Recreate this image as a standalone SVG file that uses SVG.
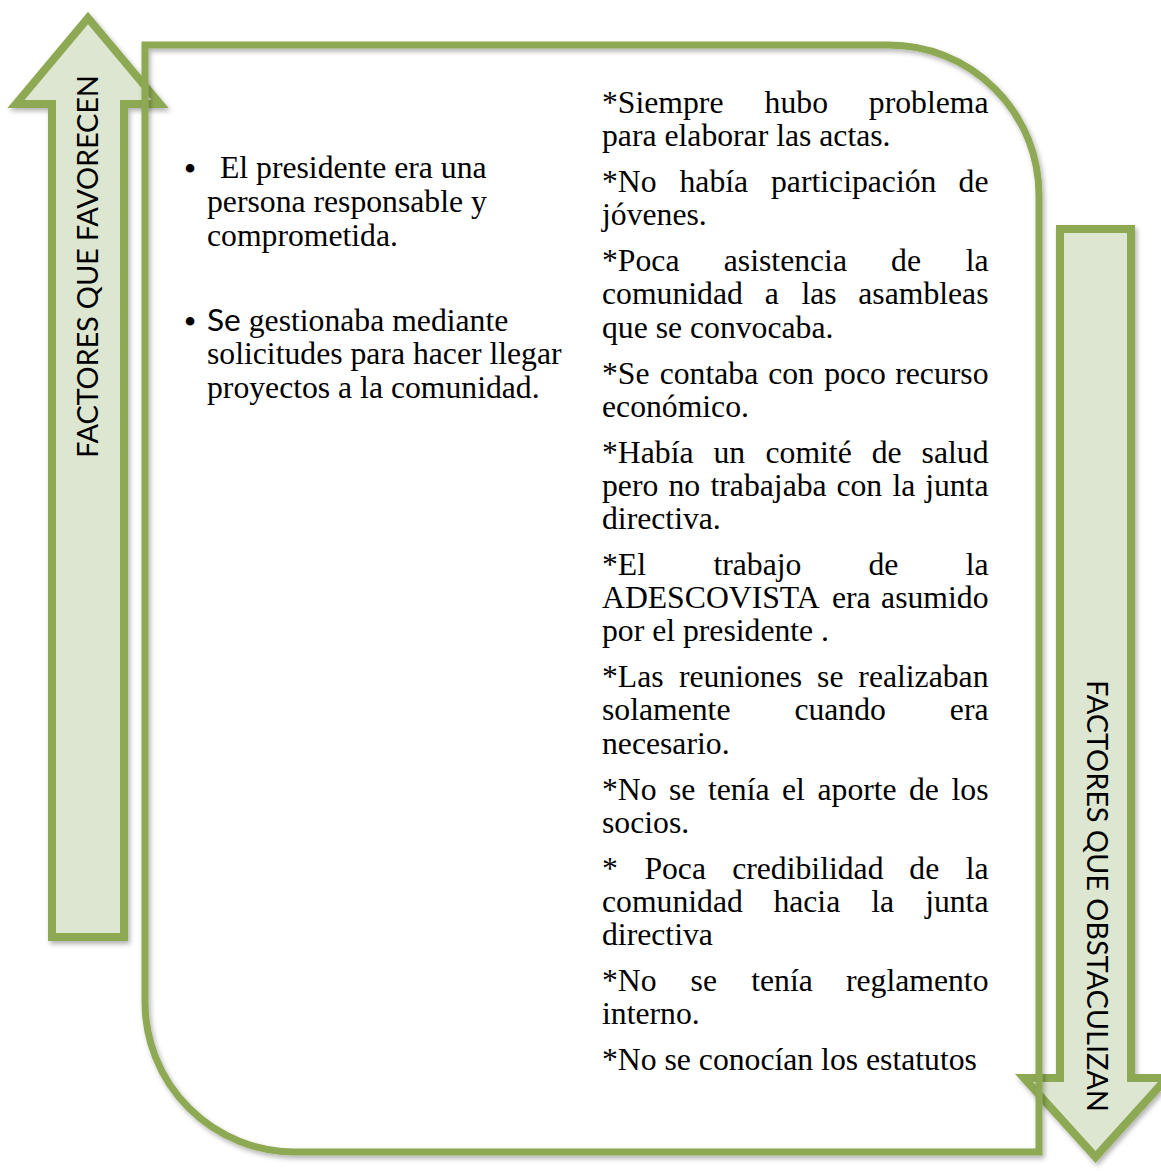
<svg xmlns="http://www.w3.org/2000/svg" width="1161" height="1171" viewBox="0 0 1161 1171">
<style>
.arrow{fill:#DDE6D1;stroke:#8EA953;stroke-width:8;stroke-linejoin:miter;stroke-miterlimit:10}
.frame{fill:none;stroke:#8EA953;stroke-width:7}
.lbl{font-family:"Lato","Open Sans",sans-serif;font-size:29px;fill:#000}
.t{font-family:"Liberation Serif","Times New Roman",serif;font-size:31.7px;fill:#000}
.b{font-family:"Liberation Serif","Times New Roman",serif;font-size:36px;fill:#000}
.sans{font-family:"Lato","Open Sans",sans-serif}
</style>
<defs>
<filter id="sh" x="-10%" y="-10%" width="130%" height="130%">
<feDropShadow dx="2" dy="3" stdDeviation="2.5" flood-color="#000" flood-opacity="0.3"/>
</filter>
</defs>
<rect width="1161" height="1171" fill="#fff"/>

<g id="arrow-up">
<path class="arrow" filter="url(#sh)" d="M88,18 L160,104 L124,104 L124,937 L52,937 L52,104 L16,104 Z"/>
<text class="lbl" transform="translate(98,266.5) rotate(-90)" text-anchor="middle" textLength="383" lengthAdjust="spacing">FACTORES QUE FAVORECEN</text>
</g>

<g id="arrow-down">
<path class="arrow" filter="url(#sh)" d="M1060,229 L1131,229 L1131,1078 L1167,1078 L1095.5,1157 L1024,1078 L1060,1078 Z"/>
<text class="lbl" transform="translate(1087,896) rotate(90)" text-anchor="middle" textLength="432" lengthAdjust="spacing">FACTORES QUE OBSTACULIZAN</text>
</g>

<g id="frame">
<path class="frame" filter="url(#sh)" d="M145,45 H889 A150,150 0 0 1 1039,195 V1152 H295 A150,150 0 0 1 145,1002 Z"/>
</g>

<g id="connectors">
<line x1="591.5" y1="417" x2="591.5" y2="790" stroke="#9BBB59" stroke-width="5" filter="url(#sh)"/>
</g>

<g id="favorecen-text">
<text class="b" x="190" y="181" text-anchor="middle">•</text>
<text class="t" x="220" y="178">El presidente era una</text>
<text class="t" x="207" y="212">persona responsable y</text>
<text class="t" x="207" y="246">comprometida.</text>
<text class="b" x="190" y="334" text-anchor="middle">•</text>
<text class="t" x="207" y="331"><tspan class="sans">Se</tspan> gestionaba mediante</text>
<text class="t" x="207" y="364">solicitudes para hacer llegar</text>
<text class="t" x="207" y="398">proyectos a la comunidad.</text>
</g>

<g id="obstaculizan-text">
<text class="t" y="113"><tspan x="602">*Siempre</tspan><tspan x="764.6">hubo</tspan><tspan x="988.5" text-anchor="end">problema</tspan></text>
<text class="t" x="602" y="146.2">para elaborar las actas.</text>
<text class="t" y="192.1"><tspan x="602">*No</tspan><tspan x="679.5">había</tspan><tspan x="771">participación</tspan><tspan x="988.5" text-anchor="end">de</tspan></text>
<text class="t" x="602" y="225.3">jóvenes.</text>
<text class="t" y="271.2"><tspan x="602">*Poca</tspan><tspan x="723.8">asistencia</tspan><tspan x="891.1">de</tspan><tspan x="988.5" text-anchor="end">la</tspan></text>
<text class="t" y="304.4"><tspan x="602">comunidad</tspan><tspan x="764.7">a</tspan><tspan x="801.4">las</tspan><tspan x="988.5" text-anchor="end">asambleas</tspan></text>
<text class="t" x="602" y="337.6">que se convocaba.</text>
<text class="t" y="383.5"><tspan x="602">*Se</tspan><tspan x="659.7">contaba</tspan><tspan x="768.2">con</tspan><tspan x="824.2">poco</tspan><tspan x="988.5" text-anchor="end">recurso</tspan></text>
<text class="t" x="602" y="416.7">económico.</text>
<text class="t" y="462.6"><tspan x="602">*Había</tspan><tspan x="713.5">un</tspan><tspan x="765.5">comité</tspan><tspan x="871.7">de</tspan><tspan x="988.5" text-anchor="end">salud</tspan></text>
<text class="t" y="495.8"><tspan x="602">pero</tspan><tspan x="668.5">no</tspan><tspan x="710.5">trabajaba</tspan><tspan x="836.4">con</tspan><tspan x="892.4">la</tspan><tspan x="988.5" text-anchor="end">junta</tspan></text>
<text class="t" x="602" y="529">directiva.</text>
<text class="t" y="574.9"><tspan x="602">*El</tspan><tspan x="713.4">trabajo</tspan><tspan x="868.5">de</tspan><tspan x="988.5" text-anchor="end">la</tspan></text>
<text class="t" y="608.1"><tspan x="602">ADESCOVISTA</tspan><tspan x="832">era</tspan><tspan x="988.5" text-anchor="end">asumido</tspan></text>
<text class="t" x="602" y="641.3">por el presidente .</text>
<text class="t" y="687.2"><tspan x="602">*Las</tspan><tspan x="678.9">reuniones</tspan><tspan x="817.1">se</tspan><tspan x="988.5" text-anchor="end">realizaban</tspan></text>
<text class="t" y="720.4"><tspan x="602">solamente</tspan><tspan x="794.4">cuando</tspan><tspan x="988.5" text-anchor="end">era</tspan></text>
<text class="t" x="602" y="753.6">necesario.</text>
<text class="t" y="799.5"><tspan x="602">*No</tspan><tspan x="669">se</tspan><tspan x="708">tenía</tspan><tspan x="782">el</tspan><tspan x="817.5">aporte</tspan><tspan x="909">de</tspan><tspan x="988.5" text-anchor="end">los</tspan></text>
<text class="t" x="602" y="832.7">socios.</text>
<text class="t" y="878.6"><tspan x="602">*</tspan><tspan x="644.4">Poca</tspan><tspan x="732.2">credibilidad</tspan><tspan x="909.3">de</tspan><tspan x="988.5" text-anchor="end">la</tspan></text>
<text class="t" y="911.8"><tspan x="602">comunidad</tspan><tspan x="773.4">hacia</tspan><tspan x="871.3">la</tspan><tspan x="988.5" text-anchor="end">junta</tspan></text>
<text class="t" x="602" y="945">directiva</text>
<text class="t" y="990.9"><tspan x="602">*No</tspan><tspan x="690.6">se</tspan><tspan x="751.2">tenía</tspan><tspan x="988.5" text-anchor="end">reglamento</tspan></text>
<text class="t" x="602" y="1024.1">interno.</text>
<text class="t" x="602" y="1070">*No se conocían los estatutos</text>
</g>
</svg>
